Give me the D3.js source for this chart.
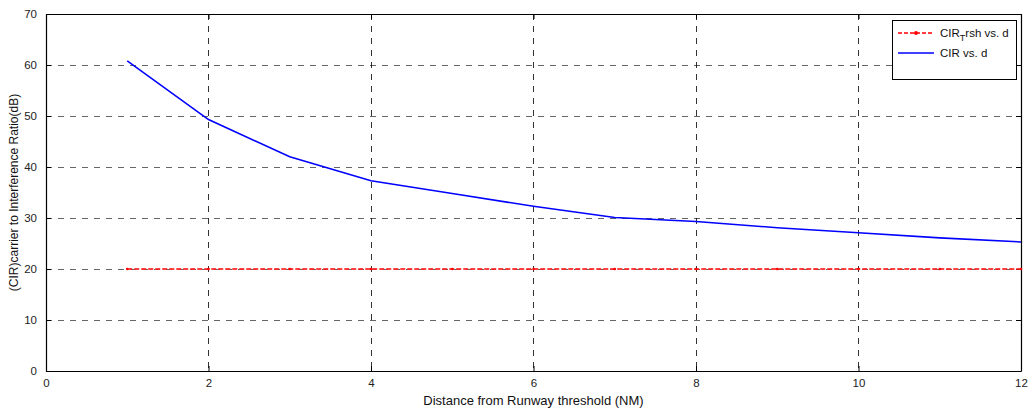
<!DOCTYPE html>
<html><head><meta charset="utf-8">
<script src="https://cdn.jsdelivr.net/npm/d3@7"></script>
<style>body{margin:0;background:#fff;}svg{font-family:"Liberation Sans",Arial,sans-serif;}</style>
</head><body><svg id="c" width="1031" height="412"></svg>
<script>
const distance = [1,2,3,4,5,6,7,8,9,10,11,12];
const cirValues = [60.8,49.3,42.0,37.3,34.8,32.3,30.1,29.3,28.1,27.1,26.1,25.3];
const thresholdValues = [20,20,20,20,20,20,20,20,20,20,20,20];
const xTicks = [0,2,4,6,8,10,12];
const yTicks = [0,10,20,30,40,50,60,70];

const svg = d3.select("#c");
const m = {l:46, r:1021, t:14, b:371};
const x = d3.scaleLinear().domain([0,12]).range([m.l, m.r]);
const y = d3.scaleLinear().domain([0,70]).range([m.b, m.t]);

// grid
const g = svg.append("g");
g.selectAll(".gx").data(xTicks.slice(1,-1)).join("line")
  .attr("x1",d=>x(d)).attr("x2",d=>x(d)).attr("y1",m.t).attr("y2",m.b)
  .attr("stroke","#000").attr("stroke-width",1).attr("stroke-dasharray","6,6").attr("shape-rendering","crispEdges").attr("opacity",0.8);
g.selectAll(".gy").data(yTicks.slice(1,-1)).join("line")
  .attr("y1",d=>y(d)).attr("y2",d=>y(d)).attr("x1",m.l).attr("x2",m.r)
  .attr("stroke","#000").attr("stroke-width",1).attr("stroke-dasharray","6,6").attr("shape-rendering","crispEdges").attr("opacity",0.6);

// axes
const xa = svg.append("g").attr("transform",`translate(0,${m.b})`)
  .call(d3.axisBottom(x).tickValues(xTicks).tickSizeInner(-5).tickSizeOuter(0).tickPadding(9));
const ya = svg.append("g").attr("transform",`translate(${m.l},0)`)
  .call(d3.axisLeft(y).tickValues(yTicks).tickSizeInner(-5).tickSizeOuter(0).tickPadding(9));
const xt = svg.append("g").attr("transform",`translate(0,${m.t})`)
  .call(d3.axisTop(x).tickValues(xTicks).tickSizeInner(-5).tickSizeOuter(0).tickFormat(""));
const yr = svg.append("g").attr("transform",`translate(${m.r},0)`)
  .call(d3.axisRight(y).tickValues(yTicks).tickSizeInner(-5).tickSizeOuter(0).tickFormat(""));
[xa,ya,xt,yr].forEach(a=>{
  a.select(".domain").attr("stroke","#000").attr("stroke-width",1.2);
  a.selectAll(".tick line").attr("stroke","#000");
  a.selectAll(".tick text").attr("font-size",11.5).attr("fill","#222").attr("font-family","Liberation Sans, Arial, sans-serif");
});
xa.selectAll(".tick text").attr("dy","0.6em");

// data lines
const line = d3.line().x((d,i)=>x(distance[i])).y(d=>y(d));
svg.append("path").datum(thresholdValues).attr("d",line)
  .attr("fill","none").attr("stroke","#ff2020").attr("stroke-width",2).attr("stroke-dasharray","5,2").attr("opacity",0.85);
svg.selectAll(".rm").data(thresholdValues).join("circle")
  .attr("cx",(d,i)=>x(distance[i])).attr("cy",d=>y(d)).attr("r",1.3).attr("fill","#ff0000");
svg.append("path").datum(cirValues).attr("d",line)
  .attr("fill","none").attr("stroke","#0000ff").attr("stroke-width",1.6);

// labels
svg.append("text").attr("x",(m.l+m.r)/2).attr("y",405).attr("text-anchor","middle")
  .attr("font-size",13).attr("fill","#111").text("Distance from Runway threshold (NM)");
svg.append("text").attr("transform",`translate(18,${(m.t+m.b)/2}) rotate(-90)`).attr("text-anchor","middle")
  .attr("font-size",12).attr("fill","#111").text("(CIR)carrier to Interference Ratio(dB)");

// legend
const lg = svg.append("g");
lg.append("rect").attr("x",892.5).attr("y",20.5).attr("width",124).attr("height",59)
  .attr("fill","#fff").attr("stroke","#000").attr("stroke-width",1);
lg.append("line").attr("x1",898).attr("x2",934).attr("y1",33).attr("y2",33)
  .attr("stroke","#ff0000").attr("stroke-width",1.6).attr("stroke-dasharray","4,2");
lg.append("circle").attr("cx",916).attr("cy",33).attr("r",2).attr("fill","#ff0000");
lg.append("line").attr("x1",898).attr("x2",934).attr("y1",53).attr("y2",53)
  .attr("stroke","#0000ff").attr("stroke-width",1.6);
const t1 = lg.append("text").attr("x",940).attr("y",37).attr("font-size",11.5).attr("fill","#111");
t1.append("tspan").text("CIR");
t1.append("tspan").attr("font-size",9).attr("dy",4).text("T");
t1.append("tspan").attr("dy",-4).text("rsh vs. d");
lg.append("text").attr("x",940).attr("y",57).attr("font-size",11.5).attr("fill","#111").text("CIR vs. d");
</script></body></html>
